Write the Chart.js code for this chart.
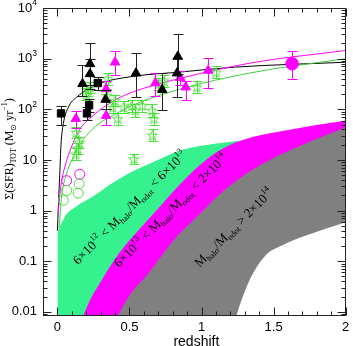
<!DOCTYPE html>
<html>
<head>
<meta charset="utf-8">
<script src="https://cdn.jsdelivr.net/npm/chart.js@4.4.1/dist/chart.umd.min.js"></script>
<style>
  html, body { margin: 0; padding: 0; background: #fff; }
</style>
</head>
<body>
<canvas id="chart" width="353" height="346"></canvas>
<script>
// tick labels
var xTicks = [0, 0.5, 1, 1.5, 2];
var xTickLabels = ['0', '0.5', '1', '1.5', '2'];
var yTicks = [0.01, 0.1, 1, 10, 100, 1000, 10000];
var yTickLabels = ['0.01', '0.1', '1', '10', '10^{2}', '10^{3}', '10^{4}'];
var xTitle = 'redshift';
var yTitle = 'Σ(SFR)_{TOT} (M_{⊙} yr^{−1})';

// halo mass bands [z, SFR] (edges)
var greenTop = [[0, 0.37], [0.05, 0.75], [0.13, 1.2], [0.26, 2.0], [0.36, 3.2], [0.5, 5.5], [0.68, 9.5], [0.84, 15], [1.0, 19], [1.27, 24], [1.6, 27], [2.0, 29]];
var magentaTop = [[0.176, 0.0081], [0.23, 0.018], [0.292, 0.036], [0.36, 0.075], [0.43, 0.148], [0.635, 0.69], [0.909, 4.9], [1.1, 14], [1.27, 24], [1.66, 42], [2.0, 60]];
var grayTop = [[0.416, 0.0081], [0.5, 0.021], [0.635, 0.059], [0.806, 0.26], [0.977, 0.8], [1.149, 2.4], [1.32, 5.6], [1.49, 10.6], [1.66, 17.8], [2.0, 44]];
var grayBottom = [[1.24, 0.008], [1.27, 0.015], [1.31, 0.03], [1.36, 0.06], [1.455, 0.14], [1.55, 0.2], [1.68, 0.29], [1.85, 0.43], [2.0, 0.59]];
var bandLabels = ['6×10^{12} < M_{halo}/M_{odot} < 6×10^{13}', '6×10^{13} < M_{halo}/M_{odot} < 2×10^{14}', 'M_{halo}/M_{odot} > 2×10^{14}'];
var bandLabelAt = [[0.505, 1.12], [0.789, 0.98], [1.227, 0.45]];

// fitted curves [z, SFR]
var blackCurve = [[0.0, 0.4], [0.008, 1.5], [0.016, 5], [0.025, 20], [0.041, 52], [0.076, 110], [0.133, 173], [0.29, 318], [0.52, 445], [0.84, 540], [1.23, 680], [2.0, 850]];
var magentaCurve = [[0.005, 0.9], [0.02, 2.5], [0.04, 5.4], [0.087, 15], [0.15, 38], [0.247, 75], [0.395, 150], [0.52, 218], [0.84, 400], [1.35, 830], [2.0, 1450]];
var greenCurve = [[0.012, 0.45], [0.03, 2], [0.06, 5], [0.1, 10], [0.14, 17], [0.2, 30], [0.28, 50], [0.4, 80], [0.52, 120], [0.84, 245], [1.35, 530], [2.0, 1000]];

// measurements [z, SFR, low, high]
var blackSquares = [[0.025, 83, 50, 115], [0.205, 83, 62, 110], [0.22, 120, 90, 160], [0.28, 330, 240, 440]];
var blackTriangles = [[0.174, 318, 180, 740], [0.226, 790, 300, 2000], [0.226, 500, 250, 1000], [0.334, 156, 100, 240], [0.545, 516, 172, 1300], [0.727, 243, 95, 530], [0.835, 1100, 500, 3100], [0.83, 517, 175, 1050]];
var magentaTriangles = [[0.128, 65, 42, 92], [0.338, 253, 150, 370], [0.338, 75, 48, 100], [0.40, 850, 465, 1400], [0.68, 330, 180, 520], [0.852, 418, 300, 560], [0.89, 274, 150, 370], [1.046, 585, 265, 1050]];
var magentaDisk = [[1.628, 795, 400, 1410]];
var greenStars = [[0.128, 13, 10, 17], [0.14, 17, 13, 22], [0.15, 22, 17, 28], [0.13, 35, 27, 45], [0.2, 200, 150, 260], [0.214, 235, 180, 300], [0.226, 275, 210, 350], [0.35, 400, 300, 520], [0.343, 187, 140, 250], [0.384, 110, 85, 145], [0.418, 65, 50, 85], [0.40, 150, 115, 195], [0.46, 110, 85, 145], [0.516, 118, 90, 155], [0.54, 95, 72, 125], [0.59, 119, 90, 155], [0.655, 95, 72, 125], [0.67, 65, 50, 85], [0.66, 31, 24, 40], [0.53, 10.5, 8.5, 13], [0.70, 318, 240, 420], [0.74, 360, 270, 470], [0.967, 275, 210, 360], [1.10, 540, 410, 700]];
var greenRings = [[0.064, 2.5], [0.041, 1.6], [0.144, 2.2], [0.151, 3.4]];
var magentaRings = [[0.064, 3.9], [0.155, 5.2]];

var GREEN_BAND = '#35f28f', MAGENTA = '#ff00ff', GRAY = '#808080';
var GREEN_LINE = '#3ccf3c', GREEN_PTS = '#4ce03c';

function pts(arr) { return arr.map(function (p) { return { x: p[0], y: p[1] }; }); }
function errs(arr) { return arr.map(function (p) { return [p[2], p[3]]; }); }

function makeStar(color, size) {
  var c = document.createElement('canvas');
  c.width = c.height = size;
  var g = c.getContext('2d');
  g.strokeStyle = color;
  g.lineWidth = 1;
  g.beginPath();
  for (var i = 0; i < 10; i++) {
    var r = i % 2 ? size * 0.2 : size * 0.48;
    var a = -Math.PI / 2 + i * Math.PI / 5;
    var px = size / 2 + r * Math.cos(a), py = size / 2 + 0.5 + r * Math.sin(a);
    if (i) g.lineTo(px, py); else g.moveTo(px, py);
  }
  g.closePath();
  g.stroke();
  return c;
}

// text with ^{sup} and _{sub}
function parseRich(s) {
  var segs = [], buf = '', i = 0;
  while (i < s.length) {
    var ch = s[i];
    if ((ch === '^' || ch === '_') && s[i + 1] === '{') {
      if (buf) segs.push({ t: buf, m: 0 });
      buf = '';
      var j = s.indexOf('}', i);
      segs.push({ t: s.slice(i + 2, j), m: ch === '^' ? 1 : -1 });
      i = j + 1;
      continue;
    }
    buf += ch;
    i++;
  }
  if (buf) segs.push({ t: buf, m: 0 });
  return segs;
}
function drawRich(ctx, s, x, y, size, family, align, angle) {
  var segs = parseRich(s), w = 0;
  ctx.save();
  ctx.translate(x, y);
  ctx.rotate(angle || 0);
  segs.forEach(function (g) {
    g.size = g.m ? size * 0.65 : size;
    ctx.font = g.size + 'px ' + family;
    g.w = ctx.measureText(g.t).width;
    w += g.w;
  });
  var x0 = align === 'right' ? -w : (align === 'left' ? 0 : -w / 2);
  ctx.textBaseline = 'middle';
  ctx.textAlign = 'left';
  ctx.fillStyle = '#000';
  segs.forEach(function (g) {
    ctx.font = g.size + 'px ' + family;
    var dy = g.m === 1 ? -size * 0.38 : (g.m === -1 ? size * 0.3 : 0);
    ctx.fillText(g.t, x0, dy);
    x0 += g.w;
  });
  ctx.restore();
}

var errorBars = {
  id: 'errorBars',
  beforeDatasetDraw: function (chart, args) {
    var ds = chart.data.datasets[args.index];
    if (!ds.errors) return;
    var xs = chart.scales.x, ys = chart.scales.y, ctx = chart.ctx, a = chart.chartArea;
    ctx.save();
    ctx.beginPath();
    ctx.rect(a.left, a.top, a.right - a.left, a.bottom - a.top);
    ctx.clip();
    ctx.strokeStyle = ds.errColor;
    ctx.lineWidth = 1;
    ds.data.forEach(function (p, i) {
      var e = ds.errors[i];
      var px = Math.round(xs.getPixelForValue(p.x)) + 0.5;
      var y1 = Math.round(ys.getPixelForValue(e[0])) + 0.5;
      var y2 = Math.round(ys.getPixelForValue(e[1])) + 0.5;
      ctx.beginPath();
      ctx.moveTo(px, y1); ctx.lineTo(px, y2);
      ctx.moveTo(px - 5, y1); ctx.lineTo(px + 5, y1);
      ctx.moveTo(px - 5, y2); ctx.lineTo(px + 5, y2);
      ctx.stroke();
    });
    ctx.restore();
  }
};

var frame = {
  id: 'frame',
  afterDraw: function (chart) {
    var ctx = chart.ctx, a = chart.chartArea, xs = chart.scales.x, ys = chart.scales.y;
    ctx.save();
    ctx.strokeStyle = '#222';
    ctx.lineWidth = 1;
    var L = Math.round(a.left) + 0.5, R = Math.round(a.right) - 0.5, T = Math.round(a.top) + 0.5, B = Math.round(a.bottom) - 0.5;
    ctx.strokeRect(L, T, R - L, B - T);
    ctx.beginPath();
    for (var i = -1; i <= 20; i++) {
      var px = Math.round(xs.getPixelForValue(i / 10)) + 0.5;
      var len = i % 5 === 0 ? 8 : 4;
      ctx.moveTo(px, B); ctx.lineTo(px, B - len);
      ctx.moveTo(px, T); ctx.lineTo(px, T + len);
    }
    for (var k = -3; k <= 3; k++) {
      for (var m = 1; m <= 9; m++) {
        var v = m * Math.pow(10, k);
        if (v < ys.min || v > ys.max) continue;
        var py = Math.round(ys.getPixelForValue(v)) + 0.5;
        var l2 = m === 1 ? 8 : 4;
        ctx.moveTo(L, py); ctx.lineTo(L + l2, py);
        ctx.moveTo(R, py); ctx.lineTo(R - l2, py);
      }
    }
    ctx.stroke();
    xTicks.forEach(function (v, i) {
      drawRich(ctx, xTickLabels[i], xs.getPixelForValue(v), a.bottom + 11, 13, '"Liberation Sans", Arial, sans-serif', 'center', 0);
    });
    yTicks.forEach(function (v, i) {
      drawRich(ctx, yTickLabels[i], a.left - 6, ys.getPixelForValue(v), 13, '"Liberation Sans", Arial, sans-serif', 'right', 0);
    });
    drawRich(ctx, xTitle, (a.left + a.right) / 2 + 2, a.bottom + 26, 14, '"Liberation Sans", Arial, sans-serif', 'center', 0);
    drawRich(ctx, yTitle, 10, 149, 12, '"Liberation Serif", serif', 'center', -Math.PI / 2);
    // band annotations
    bandLabels.forEach(function (t, i) {
      var p = bandLabelAt[i];
      drawRich(ctx, t, xs.getPixelForValue(p[0]), ys.getPixelForValue(p[1]), 13, '"Liberation Serif", serif', 'center', -Math.PI / 4);
    });
    ctx.restore();
  }
};

function band(data, color, order) {
  return { data: pts(data), showLine: true, borderWidth: 0, borderColor: color, backgroundColor: color, fill: 'start', pointRadius: 0, cubicInterpolationMode: 'monotone', order: order };
}
function curve(data, color) {
  return { data: pts(data), showLine: true, borderWidth: 1, borderColor: color, fill: false, pointRadius: 0, cubicInterpolationMode: 'monotone', order: 4 };
}
function marks(data, style, radius, fillColor, lineColor, order, errColor) {
  var ds = { data: pts(data), showLine: false, pointStyle: style, pointRadius: radius, backgroundColor: fillColor, borderColor: lineColor, pointBorderWidth: 1, order: order };
  if (errColor) { ds.errors = errs(data); ds.errColor = errColor; }
  return ds;
}

var starImg = makeStar(GREEN_PTS, 11);

new Chart(document.getElementById('chart').getContext('2d'), {
  type: 'scatter',
  data: {
    datasets: [
      band(greenTop, GREEN_BAND, 9),
      band(magentaTop, MAGENTA, 8),
      band(grayTop, GRAY, 7),
      band(grayBottom, '#ffffff', 6),
      curve(greenCurve, GREEN_LINE),
      curve(magentaCurve, MAGENTA),
      curve(blackCurve, '#000000'),
      marks(greenStars, starImg, 5, GREEN_PTS, GREEN_PTS, 3, GREEN_PTS),
      marks(greenRings, 'circle', 5, 'rgba(0,0,0,0)', GREEN_PTS, 3),
      marks(magentaRings, 'circle', 5, 'rgba(0,0,0,0)', MAGENTA, 3),
      marks(magentaTriangles, 'triangle', 5.5, MAGENTA, MAGENTA, 2, MAGENTA),
      marks(blackSquares, 'rect', 5.2, '#000000', '#000000', 1, '#222222'),
      marks(blackTriangles, 'triangle', 5.5, '#000000', '#000000', 1, '#222222'),
      marks(magentaDisk, 'circle', 6.3, MAGENTA, MAGENTA, 1, MAGENTA)
    ]
  },
  options: {
    responsive: false,
    devicePixelRatio: 1,
    animation: false,
    layout: { padding: { top: 8, right: 3, left: 0, bottom: 0 } },
    plugins: { legend: { display: false }, tooltip: { enabled: false } },
    scales: {
      x: {
        type: 'linear', min: -0.1, max: 2,
        grid: { display: false, drawTicks: false }, border: { display: false },
        ticks: { display: false },
        afterFit: function (s) { s.height = 30; }
      },
      y: {
        type: 'logarithmic', min: 0.0083, max: 10000,
        grid: { display: false, drawTicks: false }, border: { display: false },
        ticks: { display: false },
        afterFit: function (s) { s.width = 43; }
      }
    }
  },
  plugins: [errorBars, frame]
});
</script>
</body>
</html>
